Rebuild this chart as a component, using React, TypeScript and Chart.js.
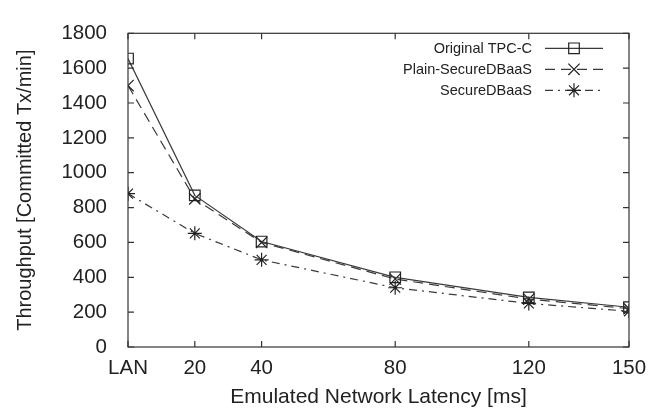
import React, { useEffect, useRef } from "react";
import { Chart, registerables } from "chart.js";

Chart.register(...registerables);

const latencies = [0, 20, 40, 80, 120, 150];
const latencyLabels = ["LAN", "20", "40", "80", "120", "150"];
const originalTPCC = [1655, 870, 605, 400, 285, 228];
const plainSecureDBaaS = [1500, 850, 600, 390, 275, 220];
const secureDBaaS = [880, 652, 500, 340, 250, 205];
const yTicks = [0, 200, 400, 600, 800, 1000, 1200, 1400, 1600, 1800];

const seriesNames = ["Original TPC-C", "Plain-SecureDBaaS", "SecureDBaaS"];

const FONT = "'Liberation Sans', Arial, Helvetica, sans-serif";
const LINE = "#3a3a3a";
const MARK = "#222";

function drawMarker(ctx: any, style: string, r: number, x: number, y: number) {
  ctx.beginPath();
  const o = Math.SQRT1_2 * r;
  if (style === "rect") {
    ctx.rect(x - o, y - o, 2 * o, 2 * o);
  } else {
    ctx.moveTo(x - o, y - o);
    ctx.lineTo(x + o, y + o);
    ctx.moveTo(x - o, y + o);
    ctx.lineTo(x + o, y - o);
    if (style === "star") {
      ctx.moveTo(x, y - r);
      ctx.lineTo(x, y + r);
      ctx.moveTo(x - r, y);
      ctx.lineTo(x + r, y);
    }
  }
  ctx.stroke();
}

const frame = {
  id: "frame",
  afterDraw(chart: any) {
    const { ctx, chartArea: a, scales } = chart;
    ctx.save();
    ctx.strokeStyle = "#333";
    ctx.lineWidth = 1.2;
    ctx.setLineDash([]);
    ctx.strokeRect(a.left, a.top, a.right - a.left, a.bottom - a.top);
    const tl = 6;
    ctx.beginPath();
    for (const v of latencies) {
      const x = scales.x.getPixelForValue(v);
      ctx.moveTo(x, a.bottom);
      ctx.lineTo(x, a.bottom - tl);
      ctx.moveTo(x, a.top);
      ctx.lineTo(x, a.top + tl);
    }
    for (const v of yTicks) {
      const y = scales.y.getPixelForValue(v);
      ctx.moveTo(a.left, y);
      ctx.lineTo(a.left + tl, y);
      ctx.moveTo(a.right, y);
      ctx.lineTo(a.right - tl, y);
    }
    ctx.stroke();

    // legend
    const ds = chart.data.datasets;
    const textRight = a.left + 404;
    const sx0 = a.left + 417;
    const sx1 = a.left + 475;
    const rowY = [a.top + 15, a.top + 36, a.top + 57];
    ctx.font = `14.5px ${FONT}`;
    ctx.textAlign = "right";
    ctx.textBaseline = "middle";
    for (let i = 0; i < ds.length; i++) {
      const d = ds[i];
      const y = rowY[i];
      ctx.fillStyle = "#222";
      ctx.fillText(seriesNames[i], textRight, y + 0.5);
      ctx.strokeStyle = LINE;
      ctx.lineWidth = 1.2;
      ctx.setLineDash(d.borderDash || []);
      ctx.beginPath();
      ctx.moveTo(sx0, y);
      ctx.lineTo(sx1, y);
      ctx.stroke();
      ctx.setLineDash([]);
      ctx.strokeStyle = MARK;
      drawMarker(ctx, d.pointStyle, d.pointRadius, (sx0 + sx1) / 2, y);
    }
    ctx.restore();
  },
};

export default function App() {
  const ref = useRef<HTMLCanvasElement>(null);
  useEffect(() => {
    if (!ref.current) return;
    const mk = (vals: number[]) => vals.map((v, i) => ({ x: latencies[i], y: v }));
    const chart = new Chart(ref.current, {
      type: "line",
      data: {
        datasets: [
          {
            label: seriesNames[0],
            data: mk(originalTPCC),
            borderColor: LINE,
            borderWidth: 1.2,
            pointStyle: "rect",
            pointRadius: 7.5,
            pointBorderColor: MARK,
            pointBackgroundColor: "rgba(0,0,0,0)",
            pointBorderWidth: 1.2,
            borderDash: [],
          },
          {
            label: seriesNames[1],
            data: mk(plainSecureDBaaS),
            borderColor: LINE,
            borderWidth: 1.2,
            pointStyle: "crossRot",
            pointRadius: 8,
            pointBorderColor: MARK,
            pointBorderWidth: 1.2,
            borderDash: [10, 6],
          },
          {
            label: seriesNames[2],
            data: mk(secureDBaaS),
            borderColor: LINE,
            borderWidth: 1.2,
            pointStyle: "star",
            pointRadius: 7,
            pointBorderColor: MARK,
            pointBorderWidth: 1.2,
            borderDash: [8, 5, 2, 5],
          },
        ] as any,
      },
      options: {
        animation: false,
        responsive: false,
        layout: { padding: { top: 18, right: 32, left: 0, bottom: 0 } },
        plugins: { legend: { display: false }, tooltip: { enabled: false } },
        scales: {
          x: {
            type: "linear",
            min: 0,
            max: 150,
            grid: { display: false, drawTicks: false },
            border: { display: false },
            afterBuildTicks: (s: any) => {
              s.ticks = latencies.map((v) => ({ value: v }));
            },
            afterFit: (s: any) => {
              s.height = 61;
            },
            ticks: {
              color: "#222",
              font: { family: FONT, size: 20.5 },
              padding: 9,
              maxRotation: 0,
              autoSkip: false,
              callback: (v: any) => {
                const i = latencies.indexOf(Number(v));
                return i >= 0 ? latencyLabels[i] : "";
              },
            },
            title: {
              display: true,
              text: "Emulated Network Latency [ms]",
              color: "#222",
              font: { family: FONT, size: 21, lineHeight: 1 },
              padding: { top: 0, bottom: 0 },
            },
          },
          y: {
            type: "linear",
            min: 0,
            max: 1800,
            grid: { display: false, drawTicks: false },
            border: { display: false },
            afterBuildTicks: (s: any) => {
              s.ticks = yTicks.map((v) => ({ value: v }));
            },
            afterFit: (s: any) => {
              s.width = 128;
            },
            ticks: {
              color: "#222",
              font: { family: FONT, size: 20.5 },
              padding: 21,
              callback: (v: any) => String(v),
            },
            title: {
              display: true,
              text: "Throughput [Committed Tx/min]",
              color: "#222",
              font: { family: FONT, size: 20, lineHeight: 1 },
              padding: { top: 15, bottom: 0 },
            },
          },
        },
      } as any,
      plugins: [frame],
    });
    return () => chart.destroy();
  }, []);
  return (
    <div style={{ position: "fixed", left: 0, top: 0, width: 661, height: 408, background: "#fff" }}>
      <canvas ref={ref} width={661} height={408} style={{ display: "block" }} />
    </div>
  );
}
